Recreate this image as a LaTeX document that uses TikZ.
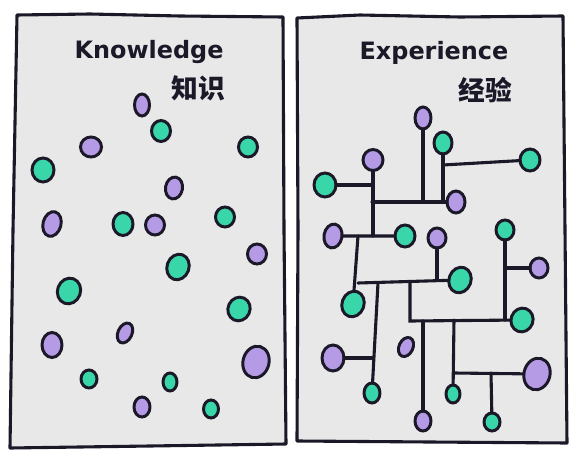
\documentclass[tikz,border=0pt]{standalone}
\usepackage{fontspec}
\setmainfont{DejaVu Sans}
\newfontfamily\cjk{Noto Sans CJK SC}
\usetikzlibrary{calc,shapes.geometric}
\definecolor{paper}{HTML}{E8E8E8}
\definecolor{ink}{HTML}{1B1828}
\definecolor{mint}{HTML}{38D6A8}
\definecolor{lilac}{HTML}{B59BE6}
\def\px{0.025cm}
\def\blob[#1](#2)(#3)(#4:#5){\node[#1, minimum width=#4*\px, minimum height=#5*\px] (#2) at (#3) {};}
\tikzset{
  gdot/.style={ellipse, draw=ink, line width=2.1pt, fill=mint, inner sep=0pt, outer sep=0pt},
  pdot/.style={ellipse, draw=ink, line width=2.1pt, fill=lilac, inner sep=0pt, outer sep=0pt},
  wire/.style={draw=ink, line width=2.2pt, line cap=round},
  panel/.style={draw=ink, line width=2.2pt, fill=paper, line join=round}
}
\begin{document}
\begin{tikzpicture}[x=0.025cm, y=-0.025cm]
			%%%%% START %%%%%
			\useasboundingbox (0,0) rectangle (580,460);
			
			\draw[panel] (17,15) -- (90,14) -- (180,16) -- (283,17) -- (284,230) -- (286,444) -- (150,446) -- (10,448) -- (13,230) -- cycle;
			\draw[panel] (297,18) -- (360,15) -- (460,17) -- (563,16) -- (565,230) -- (567,443) -- (430,442) -- (297,441) -- (298,230) -- cycle;
			
			\node[font=\bfseries\fontsize{17}{17}\selectfont, text=ink] (know) at (149,52) {Knowledge};
			\node[font=\cjk\bfseries\fontsize{19}{19}\selectfont, text=ink] (zhishi) at (198,88) {知识};
			\node[font=\bfseries\fontsize{17}{17}\selectfont, text=ink] (expe) at (434,53) {Experience};
			\node[font=\cjk\bfseries\fontsize{19}{19}\selectfont, text=ink] (jingyan) at (485,90) {经验};
			
			%%%%% KNOWLEDGE %%%%%
			\blob[pdot](k1)(142,105)(15:22)
			\blob[gdot](k2)(161,131)(19:21)
			\blob[pdot](k3)(91,147)(21:20)
			\blob[gdot](k4)(248,147)(19:20)
			\blob[gdot](k5)(43,170)(22:24)
			\blob[pdot, rotate=-10](k6)(174,188)(17:22)
			\blob[pdot, rotate=-15](k7)(52,224)(18:25)
			\blob[gdot](k8)(123,224)(20:23)
			\blob[pdot](k9)(155,225)(19:20)
			\blob[gdot](k10)(225,217)(19:20)
			\blob[pdot](k11)(257,254)(19:20)
			\blob[gdot, rotate=-20](k12)(178,267)(22:26)
			\blob[gdot, rotate=-20](k13)(69,291)(23:26)
			\blob[gdot, rotate=-25](k14)(239,309)(22:24)
			\blob[pdot, rotate=-25](k15)(125,333)(14:21)
			\blob[pdot](k16)(52,345)(20:25)
			\blob[pdot, rotate=-15](k17)(256,362)(26:32)
			\blob[gdot](k18)(89,379)(16:18)
			\blob[gdot](k19)(170,382)(14:18)
			\blob[pdot](k20)(142,407)(16:20)
			\blob[gdot](k21)(211,409)(15:18)
			
			%%%%% EXPERIENCE %%%%%
			\blob[pdot](eA)(423,118)(16:22)
			\blob[gdot](eB)(443,143)(18:22)
			\blob[gdot](eC)(530,160)(20:22)
			\blob[pdot](eD)(373,160)(20:21)
			\blob[gdot](eE)(325,185)(22:24)
			\blob[pdot](eF)(456,202)(18:22)
			\blob[pdot, rotate=-10](eG)(333,236)(18:24)
			\blob[gdot](eH)(405,236)(20:22)
			\blob[pdot](eI)(437,238)(18:20)
			\blob[gdot, rotate=-20](eJ)(460,280)(22:26)
			\blob[gdot](eK)(505,230)(18:20)
			\blob[pdot](eL)(539,268)(18:20)
			\blob[gdot, rotate=-20](eM)(522,320)(22:24)
			\blob[gdot](eN)(372,393)(16:20)
			\blob[pdot](eO)(333,358)(22:26)
			\blob[gdot, rotate=-20](eP)(353,304)(22:26)
			\blob[pdot, rotate=-25](eQ)(406,347)(14:20)
			\blob[pdot](eR)(423,421)(16:20)
			\blob[gdot](eS)(453,394)(14:18)
			\blob[pdot, rotate=-15](eT)(537,374)(26:32)
			\blob[gdot](eU)(492,422)(16:18)
			
			\coordinate (r1) at (372,202);
			\coordinate (r2) at (443,165);
			\coordinate (r3) at (358,236);
			\coordinate (r4) at (358,283);
			\coordinate (r5) at (378,283);
			\coordinate (r6) at (410,282);
			\coordinate (r7) at (410,321);
			\coordinate (r8) at (505,268);
			\coordinate (r9) at (423,321);
			\coordinate (r10) at (454,320);
			\coordinate (r11) at (454,373);
			\coordinate (r12) at (491,373);
			
			\draw[wire] (eA) -- (eA |- r1);
			\draw[wire] (eB) -- (eB |- r1);
			\draw[wire] (r1) -- (eF);
			\draw[wire] (r2) -- (eC);
			\draw[wire] (eD) -- (eD |- eG);
			\draw[wire] (eE) -- (eE -| eD);
			\draw[wire] (eG) -- (eH);
			\draw[wire] (r3) -- (eP);
			\draw[wire] (r4) -- (eJ);
			\draw[wire] (eI) -- (eI |- eJ);
			\draw[wire] (r5) -- (eN);
			\draw[wire] (eO) -- (eO -| eN);
			\draw[wire] (r6) -- (r7) -- (eM);
			\draw[wire] (eK) -- (eK |- eM);
			\draw[wire] (r8) -- (eL);
			\draw[wire] (r9) -- (eR);
			\draw[wire] (r10) -- (eS);
			\draw[wire] (r11) -- (eT);
			\draw[wire] (r12) -- (eU);
			
			%%%%% END %%%%%
\end{tikzpicture}
\end{document}
